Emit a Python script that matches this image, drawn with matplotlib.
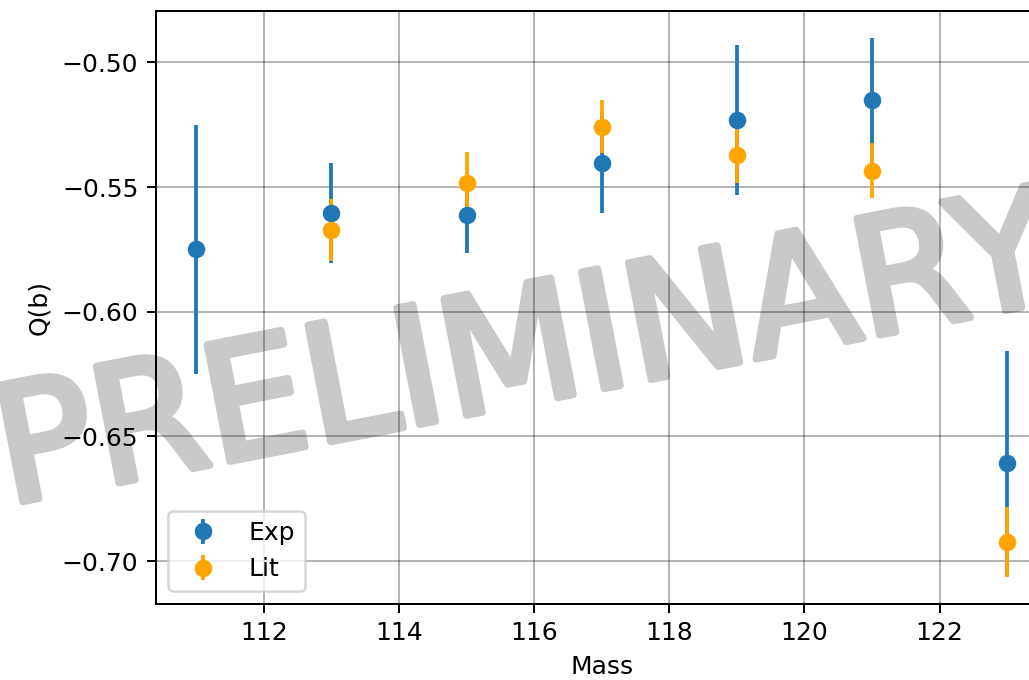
import matplotlib
matplotlib.use("Agg")
import matplotlib.pyplot as plt
import matplotlib.patheffects as pe

# measured quadrupole moments
mass_exp = [111, 113, 115, 117, 119, 121, 123]
q_exp = [-0.575, -0.5603, -0.5613, -0.5403, -0.5232, -0.5151, -0.6608]
q_exp_err = [0.050, 0.020, 0.015, 0.020, 0.030, 0.025, 0.045]

# literature values
mass_lit = [113, 115, 117, 119, 121, 123]
q_lit = [-0.5672, -0.5483, -0.5258, -0.5372, -0.5434, -0.6924]
q_lit_err = [0.0123, 0.0123, 0.0107, 0.0111, 0.0109, 0.014]

fig = plt.figure(figsize=(1029 / 180, 680 / 180), dpi=180)
ax = fig.add_axes([0.1514, 0.1118, 0.8668, 0.8725])
ax.set_facecolor("none")

ax.errorbar(mass_exp, q_exp, yerr=q_exp_err, fmt="o", color="C0", label="Exp")
ax.errorbar(mass_lit, q_lit, yerr=q_lit_err, fmt="o", color="orange", label="Lit")

ax.grid(True, color="k", alpha=0.29)
ax.set_xlabel("Mass")
ax.set_ylabel("Q(b)")
ax.legend(loc="lower left")

# watermark behind the axes content
fig.text(0.520, 0.409, "PRELIMINARY", fontsize=65,
         color="#c9c9c9", rotation=11, rotation_mode="anchor",
         ha="center", va="baseline", zorder=-1,
         path_effects=[pe.withStroke(linewidth=3, foreground="#c9c9c9",
                                     capstyle="round", joinstyle="round")])

fig.savefig("out.png", dpi=180)
